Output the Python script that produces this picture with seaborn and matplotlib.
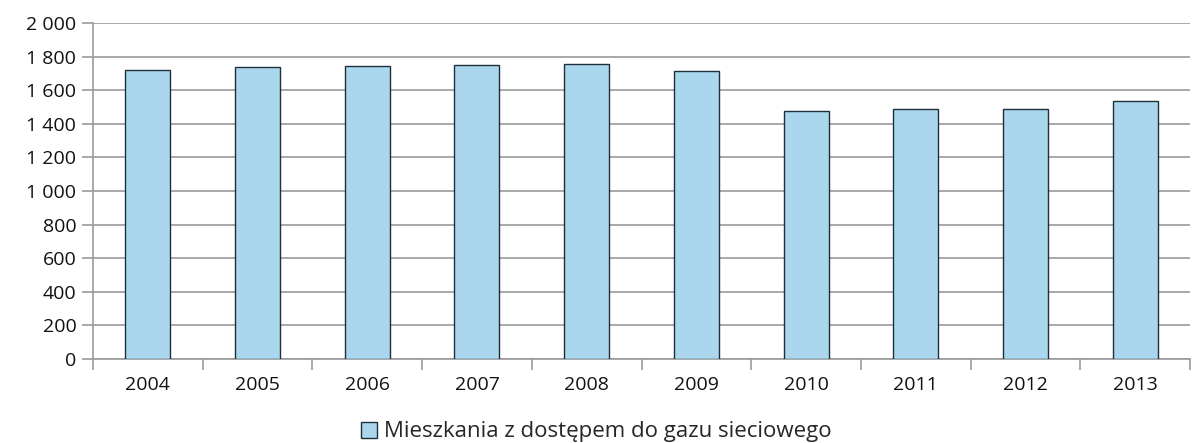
import matplotlib
matplotlib.use("Agg")
import matplotlib.pyplot as plt
import seaborn as sns
import pandas as pd
from matplotlib.patches import Patch
from matplotlib.ticker import FuncFormatter, MultipleLocator

years = ["2004", "2005", "2006", "2007", "2008", "2009", "2010", "2011", "2012", "2013"]
values = [1722, 1736, 1746, 1748, 1758, 1712, 1476, 1488, 1486, 1534]
series_name = "Mieszkania z dostępem do gazu sieciowego"

df = pd.DataFrame({"year": years, "value": values})

sns.set_theme(style="white")
plt.rcParams['font.family'] = ['Open Sans', 'DejaVu Sans']

fig = plt.figure(figsize=(11.92, 4.43), dpi=100)
ax = fig.add_axes([93/1192, 1 - 359/443, (1190-93)/1192, (359-23)/443])

bar_color = "#AAD6EE"
edge_color = "#1E2F3A"
sns.barplot(data=df, x="year", y="value", color=bar_color, width=0.41,
            edgecolor=edge_color, linewidth=1.0, saturation=1, ax=ax, zorder=3)

ax.set_ylim(0, 2000)
ax.set_xlim(-0.5, len(years) - 0.5)
ax.yaxis.set_major_locator(MultipleLocator(200))
ax.yaxis.set_major_formatter(FuncFormatter(lambda v, p: f"{int(v):,}".replace(",", " ")))
ax.grid(axis="y", color="#9a9a9a", linewidth=1.2, zorder=0)
ax.set_axisbelow(True)

for s in ["top", "right"]:
    ax.spines[s].set_visible(False)
for s in ["left", "bottom"]:
    ax.spines[s].set_color("#9a9a9a")
    ax.spines[s].set_linewidth(1.2)

ax.set_xlabel("")
ax.set_ylabel("")
ax.tick_params(axis="y", which="major", left=True, length=8, width=1.2, color="#9a9a9a",
               labelsize=14, labelcolor="#111111", pad=4)
ax.tick_params(axis="x", which="major", bottom=False, labelsize=14, labelcolor="#111111", pad=6)
# minor ticks between categories
ax.set_xticks([i - 0.5 for i in range(len(years) + 1)], minor=True)
ax.tick_params(axis="x", which="minor", bottom=True, length=8, width=1.2, color="#9a9a9a")

handles = [Patch(facecolor=bar_color, edgecolor=edge_color, linewidth=1.0, label=series_name)]
fig.legend(handles=handles, loc="center", bbox_to_anchor=(0.5, 1 - 432/443), frameon=False,
           fontsize=16, handlelength=0.75, handleheight=0.75, handletextpad=0.3)

fig.savefig("out.png", dpi=100)
